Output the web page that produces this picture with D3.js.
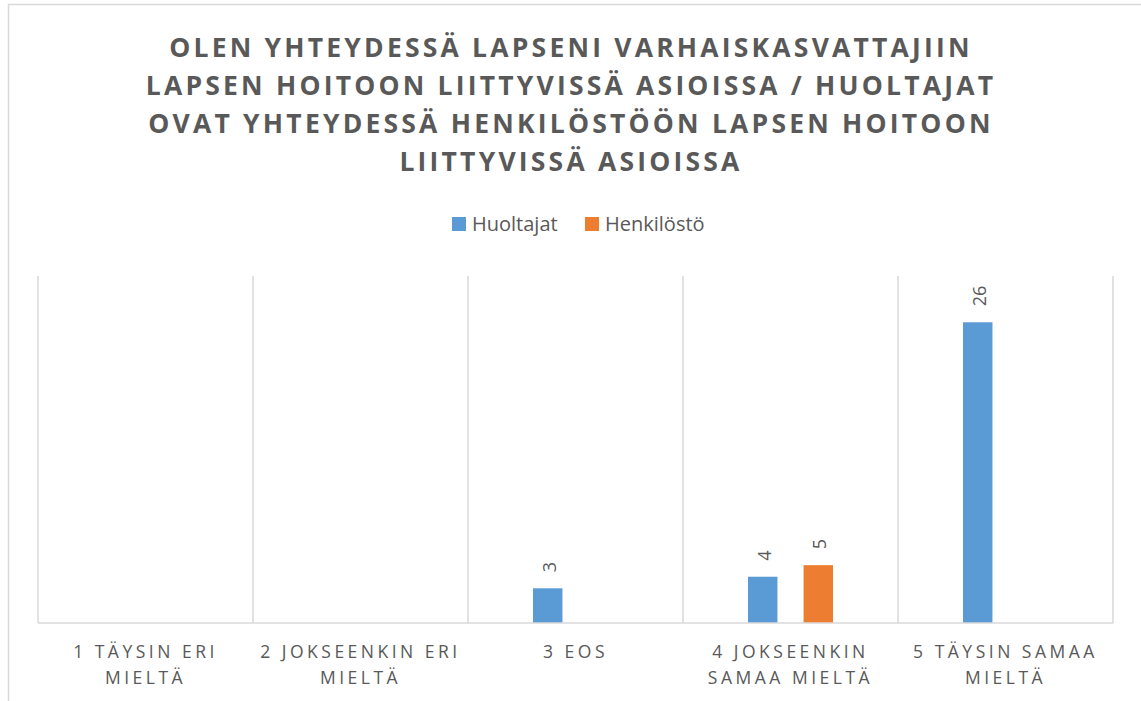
<!DOCTYPE html>
<html>
<head>
<meta charset="utf-8">
<script src="https://cdn.jsdelivr.net/npm/d3@7"></script>
<style>
  body { margin: 0; background: #fff; }
  svg { display: block; font-family: "Open Sans", sans-serif; }
</style>
</head>
<body>
<svg id="chart" width="1141" height="701"></svg>
<script>
// Data
const categories = ["1 TÄYSIN ERI MIELTÄ", "2 JOKSEENKIN ERI MIELTÄ", "3 EOS", "4 JOKSEENKIN SAMAA MIELTÄ", "5 TÄYSIN SAMAA MIELTÄ"];
const categoryLines = [["1 TÄYSIN ERI", "MIELTÄ"], ["2 JOKSEENKIN ERI", "MIELTÄ"], ["3 EOS"], ["4 JOKSEENKIN", "SAMAA MIELTÄ"], ["5 TÄYSIN SAMAA", "MIELTÄ"]];
const seriesNames = ["Huoltajat", "Henkilöstö"];
const huoltajat = [null, null, 3, 4, 26];
const henkilosto = [null, null, null, 5, null];
const titleLines = [
  "OLEN YHTEYDESSÄ LAPSENI VARHAISKASVATTAJIIN",
  "LAPSEN HOITOON LIITTYVISSÄ ASIOISSA / HUOLTAJAT",
  "OVAT YHTEYDESSÄ HENKILÖSTÖÖN LAPSEN HOITOON",
  "LIITTYVISSÄ ASIOISSA"
];

const colors = { "Huoltajat": "#5B9BD5", "Henkilöstö": "#ED7D31" };
const textColor = "#595959";
const gridColor = "#d9d9d9";

const svg = d3.select("#chart");

// Chart frame
svg.append("rect")
  .attr("x", 8.5).attr("y", 4.5)
  .attr("width", 1140).attr("height", 710)
  .attr("fill", "#fff")
  .attr("stroke", gridColor)
  .attr("stroke-width", 1.5);

// Title
svg.append("g").selectAll("text")
  .data(titleLines)
  .join("text")
  .attr("x", 571)
  .attr("y", (d, i) => 57 + i * 38)
  .attr("text-anchor", "middle")
  .style("font-size", "26.5px")
  .style("font-weight", "bold")
  .style("letter-spacing", "3.2px")
  .style("fill", textColor)
  .text(d => d);

// Legend
const legend = svg.append("g").attr("transform", "translate(452, 217)");
const legendX = [0, 133];
seriesNames.forEach((name, i) => {
  const g = legend.append("g").attr("transform", `translate(${legendX[i]}, 0)`);
  g.append("rect").attr("width", 14).attr("height", 14).attr("fill", colors[name]);
  g.append("text")
    .attr("x", 20).attr("y", 14)
    .style("font-size", "20px")
    .style("fill", textColor)
    .text(name);
});

// Plot area
const margin = { top: 276, left: 38, right: 28, bottom: 78 };
const width = 1141 - margin.left - margin.right;
const height = 701 - margin.top - margin.bottom;

const plot = svg.append("g").attr("transform", `translate(${margin.left}, ${margin.top})`);

const x0 = d3.scaleBand().domain(categories).range([0, width]).padding(0);
const x1 = d3.scaleBand().domain(seriesNames).range([0, x0.bandwidth()])
  .paddingInner(0.47).paddingOuter(1.17);
const y = d3.scaleLinear().domain([0, 30]).range([height, 0]);

// Vertical gridlines at category boundaries
const bounds = categories.map(c => x0(c)).concat([width]);
plot.append("g").selectAll("line")
  .data(bounds)
  .join("line")
  .attr("x1", d => d).attr("x2", d => d)
  .attr("y1", 0).attr("y2", height)
  .attr("stroke", gridColor)
  .attr("stroke-width", 1.5);

// Bars
const rows = [];
categories.forEach((c, i) => {
  if (huoltajat[i] != null) rows.push({ cat: c, series: "Huoltajat", value: huoltajat[i] });
  if (henkilosto[i] != null) rows.push({ cat: c, series: "Henkilöstö", value: henkilosto[i] });
});

plot.append("g").selectAll("rect")
  .data(rows)
  .join("rect")
  .attr("x", d => x0(d.cat) + x1(d.series))
  .attr("y", d => y(d.value))
  .attr("width", x1.bandwidth())
  .attr("height", d => height - y(d.value))
  .attr("fill", d => colors[d.series]);

// Value labels (rotated)
plot.append("g").selectAll("text")
  .data(rows)
  .join("text")
  .attr("transform", d => `translate(${x0(d.cat) + x1(d.series) + x1.bandwidth() / 2 + 8}, ${y(d.value) - 16}) rotate(-90)`)
  .attr("text-anchor", "start")
  .style("font-size", "18px")
  .style("fill", textColor)
  .text(d => d.value);

// X axis line
plot.append("line")
  .attr("x1", 0).attr("x2", width)
  .attr("y1", height).attr("y2", height)
  .attr("stroke", gridColor)
  .attr("stroke-width", 1.5);

// X axis labels
const xLabels = plot.append("g").selectAll("text")
  .data(categories)
  .join("text")
  .attr("x", d => x0(d) + x0.bandwidth() / 2)
  .attr("y", height + 35)
  .attr("text-anchor", "middle")
  .style("font-size", "17.5px")
  .style("letter-spacing", "3.5px")
  .style("fill", textColor);

xLabels.selectAll("tspan")
  .data((d, i) => categoryLines[i])
  .join("tspan")
  .attr("x", function () { return d3.select(this.parentNode).attr("x"); })
  .attr("dy", (d, i) => i === 0 ? 0 : 26)
  .text(d => d);
</script>
</body>
</html>
